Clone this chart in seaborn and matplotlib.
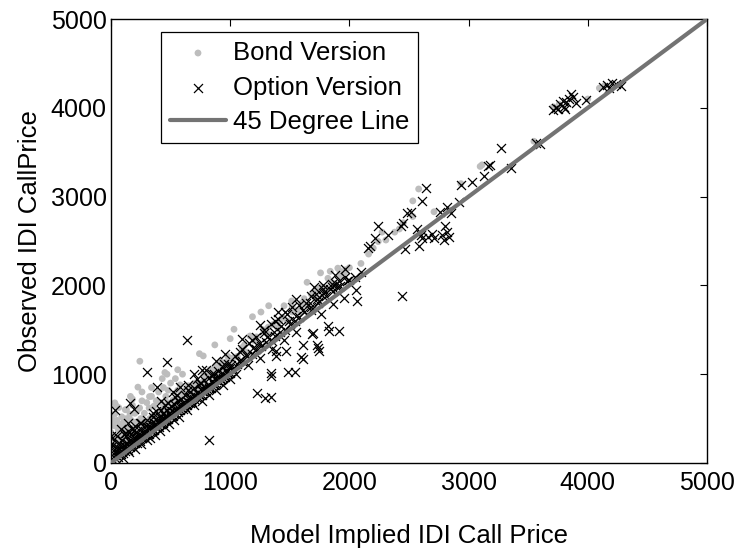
import matplotlib
matplotlib.use("Agg")
import matplotlib.pyplot as plt
import seaborn as sns
import pandas as pd

# ---------------- data ----------------
option_x = [20,40,60,80,100,120,140,160,180,200,220,240,260,280,300,
            30,50,70,90,110,130,150,170,190,210,230,250,270,290,
            10,20,50,80,110,176,200,240,60,100,150,200,250,300,
            0,0,32,161,194,306,387,474,635,823,145,194,129,
            320,340,360,380,400,420,440,460,480,500,520,540,560,580,600,
            320,350,380,410,440,470,500,530,560,590,
            330,370,410,450,490,530,570,
            350,420,480,540,300,380,
            620,640,660,680,700,720,740,760,780,800,820,840,860,880,900,920,940,960,980,1000,
            620,660,700,740,780,820,860,900,940,980,
            640,700,760,820,880,940,1000,
            650,720,800,880,960,
            35,65,95,125,155,185,215,245,275,305,335,365,395,425,455,485,515,545,575,605,
            635,665,695,725,755,785,815,845,875,905,935,965,995,
            45,75,105,135,165,195,225,255,285,315,345,375,405,435,465,495,525,555,585,615,
            645,675,705,735,765,795,825,855,885,915,945,975,
            150,250,350,450,550,650,750,850,950,420,520,580,700,760,
            1020,1060,1100,1140,1180,1220,1260,1300,1340,1380,1420,1460,1500,1540,1580,
            1040,1100,1160,1220,1280,1340,1400,1460,1520,
            1050,1150,1250,1350,1450,1550,
            1010,1070,1130,1190,1250,1310,1370,1430,1490,1550,1610,1670,1730,1790,1850,1910,1960,
            1080,1180,1280,1380,1480,1580,1680,1780,1880,1960,
            1100,1250,1400,1550,1700,
            1620,1680,1740,1800,1860,1920,1980,1640,1720,1780,1850,1900,
            1226,1290,1339,1339,1345,1484,1542,1468,1381,1387,1590,1613,1613,1684,1694,
            1735,1742,1726,1823,1832,1910,1758,1865,1958,2065,2055,2445,
            1677,1742,1774,1839,1887,2000,2050,2100,
            2155,2177,2219,2242,2323,2435,2452,2484,2516,2613,2645,2468,2581,2597,2613,
            2565,2694,2710,2661,2774,2806,2823,2839,2790,2855,2758,2823,2935,3032,2919,
            3129,3177,3161,3274,3355,3565,3597,
            3710,3750,3770,3800,3820,3840,3860,3790,3880,3900,3730,3810,
            3986,4130,4160,4200,4240,4280,4180]
option_y = [30,50,70,100,110,140,150,180,190,220,230,250,280,290,320,
            120,180,230,260,200,300,250,330,280,350,310,380,340,420,
            280,200,300,380,330,383,420,450,100,60,120,160,210,260,
            307,219,596,677,607,1023,854,1136,1383,254,448,377,342,
            330,360,370,400,410,440,450,480,490,520,530,560,570,600,610,
            420,460,500,520,560,600,640,660,700,720,
            280,320,360,400,440,480,520,
            520,600,680,740,480,580,
            630,650,680,690,720,730,760,770,800,810,840,850,880,890,920,930,960,970,1000,1010,
            760,800,840,880,930,960,1000,1040,1080,1120,
            600,650,700,770,820,880,950,
            880,950,1050,1150,1230,
            90,160,140,210,190,240,280,300,330,370,400,430,470,490,530,560,590,610,650,680,
            700,740,770,790,830,860,880,920,950,970,1010,1040,1070,
            130,190,170,230,220,260,290,320,360,390,380,440,450,480,510,540,570,600,620,660,
            690,720,750,780,810,850,870,900,930,960,990,1020,
            350,450,560,650,760,820,900,1000,1120,700,800,860,1000,1050,
            1060,1120,1150,1200,1230,1280,1320,1360,1380,1430,1480,1500,1560,1600,1640,
            1200,1280,1350,1420,1500,1560,1620,1700,1760,
            1000,1100,1180,1280,1380,1480,
            1100,1150,1220,1290,1350,1420,1470,1540,1600,1650,1720,1800,1850,1920,1980,2050,2100,
            1250,1380,1460,1600,1680,1780,1880,2000,2120,2180,
            1400,1550,1700,1850,1980,
            1700,1760,1800,1880,1940,1990,2050,1800,1900,1960,2020,1980,
            783,730,748,1012,977,1030,1030,1259,1206,1259,1189,1171,1330,1453,1464,
            1295,1259,1330,1541,1489,1489,1683,1788,1859,1824,1947,1877,
            1718,1824,1894,1965,2018,2060,2100,2150,
            2423,2441,2529,2670,2564,2670,2705,2811,2829,2952,3093,2406,2441,2564,2529,
            2635,2582,2529,2547,2564,2670,2600,2547,2511,2811,2829,2882,3129,3164,2935,
            3235,3358,3340,3552,3323,3605,3587,
            3975,3990,4040,4010,4060,4100,4150,4080,4120,4050,4000,3990,
            4089,4230,4260,4280,4270,4250,4220]

bond_x = [20,25,30,40,35,50,60,70,80,90,100,110,120,130,140,150,160,170,180,190,200,210,218,242,
          240,250,260,280,300,320,340,360,380,400,420,440,460,480,500,520,540,560,580,600,
          40,60,80,100,120,140,160,200,240,280,320,360,400,440,480,520,560,600,
          163,30,15,452,226,323,32,65,16,0,32,
          55,85,115,145,175,205,235,265,295,325,355,385,415,445,475,505,535,565,595,
          625,655,685,715,745,775,805,835,865,895,925,955,985,
          130,180,260,340,430,470,560,
          620,650,680,700,742,774,760,780,800,830,871,860,880,900,920,950,980,1000,640,720,800,880,960,
          1032,1060,1100,1140,1166,1200,1240,1280,1320,1360,1400,1440,1480,1520,1560,1600,
          1640,1680,1720,1760,1800,1840,1880,1920,1960,2000,
          1020,1120,1220,1320,1420,1520,1620,1720,1820,1920,
          1000,1187,1258,1323,1452,1516,1645,1758,1839,1903,1968,
          2097,2161,2242,2274,2306,2419,2452,2532,2532,2581,2710,2839,2935,3113,3097,
          3548,3710,3760,4000,4097,4140,2200,2380]
bond_y = [300,420,550,650,200,480,380,420,300,520,450,350,600,500,420,380,550,480,650,400,560,460,585,1146,
          620,500,700,560,680,620,750,640,700,800,680,850,750,820,900,710,950,820,880,1000,
          120,150,160,200,220,260,250,300,340,380,400,450,500,540,580,620,660,700,
          750,280,150,1019,854,748,677,624,483,342,272,
          250,400,470,330,380,350,450,400,450,500,530,560,590,620,680,660,700,740,780,
          820,760,860,850,900,920,1000,980,1060,1080,1060,1130,1150,
          600,720,800,850,950,1000,1050,
          780,870,820,900,1231,1206,880,1000,960,1050,1330,1000,1100,1030,1150,1080,1200,1120,720,800,880,960,1050,
          1506,1200,1300,1250,1430,1380,1330,1500,1450,1560,1520,1640,1600,1700,1720,1800,
          1780,1900,1880,1980,1960,2050,2020,2100,2150,2200,
          1180,1330,1420,1530,1600,1760,1850,1960,2080,2160,
          1400,1647,1700,1771,1771,1824,2035,2141,2159,2194,2176,
          2247,2353,2494,2600,2511,2635,2705,2776,2952,3086,2829,2847,3146,3358,3340,
          3623,4011,4040,4099,4222,4250,2420,2600]

line_x = [0, 5000]
line_y = [0, 5000]

bond = pd.DataFrame({"x": bond_x, "y": bond_y})
option = pd.DataFrame({"x": option_x, "y": option_y})
line = pd.DataFrame({"x": line_x, "y": line_y})

# ---------------- style ----------------
sns.set_style("white")
plt.rcParams['font.family'] = ['Liberation Sans', 'DejaVu Sans']
plt.rcParams['text.color'] = 'black'
plt.rcParams['axes.labelcolor'] = 'black'

fig = plt.figure(figsize=(7.36, 5.56), dpi=100)
ax = fig.add_axes([0.1508, 0.1673, 0.8098, 0.7985])

sns.scatterplot(data=bond, x="x", y="y", ax=ax, color="#bdbdbd", marker="o",
                s=24, edgecolor="none", label="Bond Version", zorder=2)
sns.scatterplot(data=option, x="x", y="y", ax=ax, color="black", marker="x",
                s=42, linewidth=0.9, label="Option Version", zorder=3)
sns.lineplot(data=line, x="x", y="y", ax=ax, color="#737373", linewidth=3,
             label="45 Degree Line", zorder=4)

ax.set_xlim(0, 5000)
ax.set_ylim(0, 5000)
ax.set_xticks([0, 1000, 2000, 3000, 4000, 5000])
ax.set_yticks([0, 1000, 2000, 3000, 4000, 5000])
ax.tick_params(direction="in", length=5, width=0.8, top=True, right=True,
               labelsize=18, colors="black", pad=3)
ax.tick_params(axis="x", pad=6)
for sp in ax.spines.values():
    sp.set_color("black")
    sp.set_linewidth(1.0)
ax.set_xlabel("Model Implied IDI Call Price", fontsize=18.5, labelpad=21, color="black")
ax.set_ylabel("Observed IDI CallPrice", fontsize=18.5, labelpad=6, color="black")

leg = ax.legend(loc="upper left", bbox_to_anchor=(0.0839, 0.9707), borderaxespad=0,
                fontsize=18.5, frameon=True, fancybox=False, edgecolor="black",
                framealpha=1, handlelength=2.2, borderpad=0.34, labelspacing=0.42,
                handletextpad=0.25, markerscale=1.0)
leg.get_frame().set_linewidth(0.9)

fig.savefig("out.png", dpi=100)
